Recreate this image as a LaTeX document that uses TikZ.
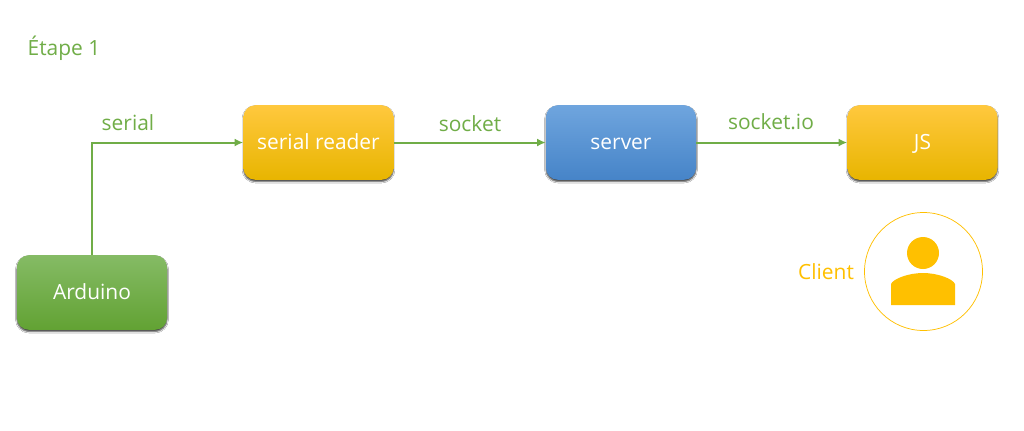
\documentclass[tikz,border=0pt]{standalone}
\usepackage{fontspec}
\setmainfont{Open Sans}
\usetikzlibrary{arrows.meta,shadows,shadows.blur,calc}
\definecolor{grn}{HTML}{70AD47}
\definecolor{org}{HTML}{FFC000}
\definecolor{grntop}{HTML}{85BB65}
\definecolor{grnmid}{HTML}{70B044}
\definecolor{grnbot}{HTML}{62A233}
\definecolor{orgtop}{HTML}{FFC83E}
\definecolor{orgbot}{HTML}{E8B500}
\definecolor{bluetop}{HTML}{6FA5DE}
\definecolor{bluemid}{HTML}{5B9BD5}
\definecolor{bluebot}{HTML}{4684C8}
\tikzset{
  box/.style={rounded corners=9pt,minimum width=112.5pt,minimum height=56pt,inner sep=0pt,text=white,text height=11pt,text depth=0.7pt,font=\fontsize{15.7pt}{18pt}\selectfont,
    blur shadow={shadow xshift=0pt,shadow yshift=-1.3pt,shadow blur radius=1.1pt,shadow opacity=75,shadow blur steps=4}},
  greenbox/.style={box,top color=grntop,middle color=grnmid,bottom color=grnbot},
  orangebox/.style={box,top color=orgtop,middle color=org,bottom color=orgbot},
  bluebox/.style={box,top color=bluetop,middle color=bluemid,bottom color=bluebot},
  link/.style={draw=grn,line width=1.5pt,-{Latex[length=6.5pt,width=6pt]}},
  lab/.style={text=grn,inner sep=0pt,font=\fontsize{15.7pt}{18pt}\selectfont},
}
\begin{document}
\begin{tikzpicture}[x=0.75pt,y=-0.75pt]
\useasboundingbox (0,0) rectangle (1024,430);
\fill[white] (0,0) rectangle (1024,430);
\node[lab] (etape) at (64,48.5) {Étape 1};
\node[greenbox] (ard) at (92,292.5) {Arduino};
\node[orangebox] (ser) at (318.5,142.5) {serial reader};
\node[bluebox] (srv) at (621,142.5) {server};
\node[orangebox] (js) at (922.5,142.5) {JS};
\draw[link] (ard.north) |- (ser.west);
\draw[link] (ser.east) -- (srv.west);
\draw[link] (srv.east) -- (js.west);
\node[lab] (l1) at (128,122.5) {serial};
\node[lab] (l2) at (470,123.5) {socket};
\node[lab] (l3) at (771,121.5) {socket.io};
\node[lab,text=org] (cl) at (826,271.5) {Client};
\node[circle,draw=org,line width=0.55pt,minimum size=88.5pt,inner sep=0pt] (circ) at (923.5,271.5) {};
\fill[org] (923,253) circle[radius=16];
\fill[org] (891,305) -- (891,284) .. controls (893,279) and (908,273) .. (923,273) .. controls (938,273) and (953,279) .. (955,284) -- (955,305) -- cycle;
\end{tikzpicture}
\end{document}
